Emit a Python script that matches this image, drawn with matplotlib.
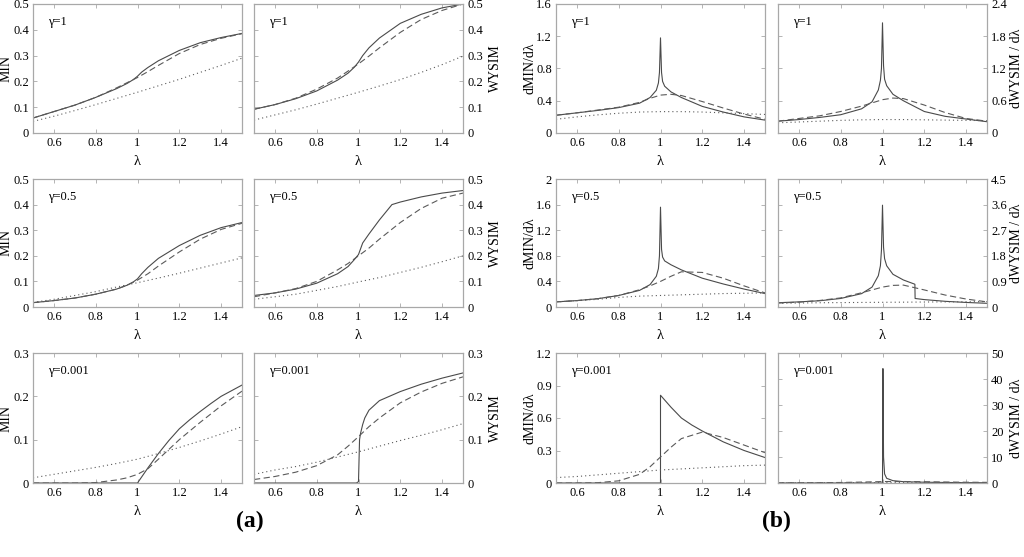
import matplotlib
matplotlib.use('Agg')
import matplotlib.pyplot as plt
from matplotlib.ticker import FuncFormatter

plt.rcParams['font.family'] = ['Liberation Serif', 'DejaVu Serif']
plt.rcParams['lines.scale_dashes'] = False

# common lambda grids
lam_base = [0.5, 0.6, 0.7, 0.8, 0.9, 0.95, 1.0, 1.05, 1.1, 1.2, 1.3, 1.4, 1.5]
lam_dot = [0.5, 0.6, 0.7, 0.8, 0.9, 1.0, 1.1, 1.2, 1.3, 1.4, 1.5]
lam_kink = [0.5, 0.6, 0.7, 0.8, 0.9, 0.95, 0.98, 1.0, 1.02, 1.05, 1.1, 1.2, 1.3, 1.4, 1.5]
lam_peak = [0.5, 0.6, 0.7, 0.8, 0.9, 0.95, 0.98, 0.99, 0.995, 1.0, 1.005, 1.01,
            1.02, 1.05, 1.1, 1.2, 1.3, 1.4, 1.5]

# (a) MIN, gamma = 1
min_g1_solid = [0.058, 0.083, 0.108, 0.138, 0.172, 0.192, 0.207, 0.22, 0.236, 0.254,
                0.28, 0.32, 0.35, 0.37, 0.386]
min_g1_dash = [0.058, 0.083, 0.108, 0.138, 0.175, 0.195, 0.215, 0.238, 0.262, 0.308,
               0.343, 0.367, 0.385]
min_g1_dot = [0.045, 0.065, 0.087, 0.11, 0.134, 0.158, 0.183, 0.208, 0.235, 0.262, 0.29]

# (a) WYSIM, gamma = 1
wys_g1_solid = [0.092, 0.11, 0.133, 0.163, 0.205, 0.232, 0.255, 0.275, 0.3, 0.33,
                0.368, 0.425, 0.46, 0.485, 0.5]
wys_g1_dash = [0.092, 0.11, 0.135, 0.17, 0.213, 0.24, 0.268, 0.298, 0.33, 0.39,
               0.44, 0.475, 0.5]
wys_g1_dot = [0.05, 0.07, 0.09, 0.112, 0.135, 0.158, 0.182, 0.207, 0.235, 0.265, 0.298]

# (a) MIN, gamma = 0.5
min_g05_solid = [0.017, 0.025, 0.035, 0.05, 0.07, 0.085, 0.098, 0.11, 0.13, 0.155,
                 0.19, 0.24, 0.28, 0.31, 0.33]
min_g05_dash = [0.017, 0.025, 0.035, 0.05, 0.07, 0.085, 0.105, 0.13, 0.16, 0.215,
                0.265, 0.303, 0.327]
min_g05_dot = [0.018, 0.03, 0.045, 0.06, 0.078, 0.095, 0.113, 0.132, 0.152, 0.172, 0.192]

# (a) WYSIM, gamma = 0.5
wys_g05_x = [0.5, 0.6, 0.7, 0.8, 0.9, 0.95, 0.98, 1.0, 1.02, 1.05, 1.1, 1.16, 1.2,
             1.3, 1.4, 1.5]
wys_g05_solid = [0.045, 0.055, 0.07, 0.093, 0.13, 0.158, 0.185, 0.205, 0.25, 0.285,
                 0.34, 0.4, 0.41, 0.43, 0.445, 0.455]
wys_g05_dash = [0.04, 0.055, 0.072, 0.1, 0.145, 0.17, 0.2, 0.23, 0.265, 0.33, 0.385,
                0.425, 0.445]
wys_g05_dot = [0.03, 0.04, 0.05, 0.065, 0.08, 0.098, 0.115, 0.135, 0.155, 0.177, 0.2]

# (a) MIN, gamma = 0.001
min_g0_x = [0.5, 1.0, 1.05, 1.1, 1.15, 1.2, 1.25, 1.3, 1.35, 1.4, 1.45, 1.5]
min_g0_solid = [0, 0, 0.035, 0.068, 0.098, 0.125, 0.146, 0.165, 0.183, 0.2, 0.213, 0.226]
min_g0_dash = [0, 0, 0.0, 0.001, 0.007, 0.012, 0.02, 0.033, 0.055, 0.1, 0.14, 0.178, 0.212]
min_g0_dot = [0.012, 0.02, 0.028, 0.036, 0.045, 0.055, 0.068, 0.082, 0.097, 0.113, 0.13]

# (a) WYSIM, gamma = 0.001
wys_g0_x = [0.5, 0.99, 1.0, 1.005, 1.01, 1.02, 1.03, 1.05, 1.1, 1.2, 1.3, 1.4, 1.5]
wys_g0_solid = [0, 0, 0.003, 0.1, 0.115, 0.135, 0.15, 0.168, 0.19, 0.211, 0.228,
                0.242, 0.254]
wys_g0_dash = [0.008, 0.015, 0.025, 0.04, 0.065, 0.085, 0.107, 0.13, 0.15, 0.185,
               0.21, 0.23, 0.245]
wys_g0_dot = [0.02, 0.03, 0.038, 0.048, 0.06, 0.072, 0.085, 0.098, 0.11, 0.123, 0.137]

# (b) dMIN/dlambda, gamma = 1
dmin_g1_solid = [0.22, 0.25, 0.28, 0.315, 0.37, 0.44, 0.53, 0.62, 0.75, 1.18, 0.75,
                 0.64, 0.58, 0.51, 0.44, 0.33, 0.26, 0.2, 0.16]
dmin_g1_dash = [0.22, 0.25, 0.285, 0.32, 0.38, 0.43, 0.47, 0.48, 0.465, 0.39, 0.31,
                0.235, 0.17]
dmin_g1_dot = [0.17, 0.2, 0.225, 0.245, 0.26, 0.265, 0.265, 0.26, 0.25, 0.24, 0.23]

# (b) dWYSIM/dlambda, gamma = 1
dwys_g1_solid = [0.22, 0.25, 0.29, 0.34, 0.45, 0.58, 0.8, 0.98, 1.2, 2.05, 1.25, 1.0,
                 0.88, 0.72, 0.6, 0.4, 0.31, 0.26, 0.21]
dwys_g1_dash = [0.22, 0.27, 0.32, 0.4, 0.5, 0.56, 0.62, 0.65, 0.64, 0.52, 0.38,
                0.27, 0.22]
dwys_g1_dot = [0.19, 0.205, 0.22, 0.235, 0.245, 0.25, 0.25, 0.245, 0.24, 0.235, 0.23]

# (b) dMIN/dlambda, gamma = 0.5
dmin_g05_solid = [0.08, 0.1, 0.13, 0.18, 0.26, 0.35, 0.48, 0.6, 0.8, 1.56, 0.9, 0.78,
                  0.72, 0.66, 0.58, 0.45, 0.36, 0.28, 0.21]
dmin_g05_dash = [0.08, 0.1, 0.13, 0.18, 0.27, 0.33, 0.4, 0.48, 0.55, 0.54, 0.45,
                 0.33, 0.22]
dmin_g05_dot = [0.08, 0.1, 0.12, 0.15, 0.17, 0.18, 0.19, 0.2, 0.21, 0.215, 0.22]

# (b) dWYSIM/dlambda, gamma = 0.5
dwys_g05_x = [0.5, 0.6, 0.7, 0.8, 0.9, 0.95, 0.98, 0.99, 0.995, 1.0, 1.005, 1.01,
              1.02, 1.05, 1.1, 1.155, 1.156, 1.2, 1.3, 1.4, 1.5]
dwys_g05_solid = [0.15, 0.18, 0.22, 0.3, 0.47, 0.7, 1.1, 1.45, 2.0, 3.58, 2.1, 1.7,
                  1.45, 1.15, 0.95, 0.8, 0.3, 0.26, 0.2, 0.16, 0.13]
dwys_g05_dash = [0.14, 0.17, 0.23, 0.32, 0.5, 0.6, 0.7, 0.76, 0.77, 0.6, 0.42, 0.28, 0.18]
dwys_g05_dot = [0.13, 0.14, 0.15, 0.155, 0.16, 0.165, 0.17, 0.175, 0.18, 0.185, 0.19]

# (b) dMIN/dlambda, gamma = 0.001
dmin_g0_x = [0.5, 1.0, 1.0, 1.05, 1.1, 1.15, 1.2, 1.3, 1.4, 1.5]
dmin_g0_solid = [0, 0, 0.81, 0.7, 0.6, 0.535, 0.48, 0.38, 0.3, 0.235]
dmin_g0_dash = [0, 0, 0.003, 0.02, 0.08, 0.15, 0.24, 0.33, 0.41, 0.47, 0.42, 0.35, 0.28]
dmin_g0_dot = [0.05, 0.06, 0.075, 0.09, 0.105, 0.12, 0.13, 0.14, 0.15, 0.16, 0.165]

# (b) dWYSIM/dlambda, gamma = 0.001
dwys_g0_x = [0.5, 1.0, 1.002, 1.005, 1.01, 1.02, 1.05, 1.1, 1.2, 1.3, 1.4, 1.5]
dwys_g0_solid = [0, 0, 44, 10, 3.5, 1.8, 0.9, 0.5, 0.3, 0.2, 0.15, 0.1]
dwys_g0_dash = [0.05, 0.08, 0.12, 0.2, 0.35, 0.45, 0.55, 0.58, 0.57, 0.48, 0.38, 0.3, 0.25]
dwys_g0_dot = [0.1, 0.11, 0.12, 0.13, 0.14, 0.15, 0.15, 0.15, 0.15, 0.15, 0.14]

gamma_labels = ['γ=1', 'γ=0.5', 'γ=0.001']

FIG_W, FIG_H = 1024, 557
COL_X = [33, 254, 556, 778]
COL_W = 209
ROWS = [(4, 133), (179, 307), (353, 483)]
# centre of the y label, in pixels, for each column
LABEL_X = [6, 495, 530, 1017]

frame_gray = '#a8a8a8'
line_gray = '#4a4a4a'


def _tick_fmt(v, pos):
    if abs(v - round(v)) < 1e-9:
        return '%d' % round(v)
    return ('%.1f' % v)


def _panel(col, row, curves, ymax, ystep, ylabel, right):
    top, bot = ROWS[row]
    ax = plt.gcf().add_axes([COL_X[col] / FIG_W, 1 - bot / FIG_H,
                             COL_W / FIG_W, (bot - top) / FIG_H])
    sx, sy, dy = curves
    ax.plot(sx[0], sx[1], color=line_gray, lw=0.8)
    ax.plot(sy[0], sy[1], color='#5a5a5a', lw=0.8, dashes=(4.5, 2.5))
    ax.plot(dy[0], dy[1], color='#5a5a5a', lw=0.8, dashes=(0.8, 2.2))
    ax.set_xlim(0.5, 1.5)
    ax.set_ylim(0, ymax)
    ax.set_xticks([0.6, 0.8, 1.0, 1.2, 1.4])
    n = int(round(ymax / ystep))
    ax.set_yticks([i * ystep for i in range(n + 1)])
    ax.xaxis.set_major_formatter(FuncFormatter(_tick_fmt))
    ax.yaxis.set_major_formatter(FuncFormatter(_tick_fmt))
    for sp in ax.spines.values():
        sp.set_color(frame_gray)
        sp.set_linewidth(0.9)
    ax.tick_params(direction='in', length=3, width=0.6, color=frame_gray,
                   top=True, right=True, labelsize=9, pad=3)
    if right:
        ax.yaxis.tick_right()
        ax.yaxis.set_ticks_position('both')
        ax.yaxis.set_label_position('right')
        ax.tick_params(axis='y', labelleft=False, labelright=True)
    ax.set_xlabel('λ', fontsize=10.5, labelpad=4)
    ax.set_ylabel(ylabel, fontsize=10, rotation=90)
    ax.yaxis.label.set_va('center')
    ax.yaxis.label.set_ha('center')
    ax.yaxis.set_label_coords((LABEL_X[col] - COL_X[col]) / COL_W, 0.5)
    ax.text(0.07, 0.86, gamma_labels[row], transform=ax.transAxes,
            fontsize=9, va='center')
    return ax


fig = plt.figure(figsize=(FIG_W / 100, FIG_H / 100), dpi=100)

# (a)
_panel(0, 0, ((lam_kink, min_g1_solid), (lam_base, min_g1_dash), (lam_dot, min_g1_dot)),
       0.5, 0.1, 'MIN', False)
_panel(1, 0, ((lam_kink, wys_g1_solid), (lam_base, wys_g1_dash), (lam_dot, wys_g1_dot)),
       0.5, 0.1, 'WYSIM', True)
_panel(0, 1, ((lam_kink, min_g05_solid), (lam_base, min_g05_dash), (lam_dot, min_g05_dot)),
       0.5, 0.1, 'MIN', False)
_panel(1, 1, ((wys_g05_x, wys_g05_solid), (lam_base, wys_g05_dash), (lam_dot, wys_g05_dot)),
       0.5, 0.1, 'WYSIM', True)
_panel(0, 2, ((min_g0_x, min_g0_solid), (lam_base, min_g0_dash), (lam_dot, min_g0_dot)),
       0.3, 0.1, 'MIN', False)
_panel(1, 2, ((wys_g0_x, wys_g0_solid), (lam_base, wys_g0_dash), (lam_dot, wys_g0_dot)),
       0.3, 0.1, 'WYSIM', True)

# (b)
_panel(2, 0, ((lam_peak, dmin_g1_solid), (lam_base, dmin_g1_dash), (lam_dot, dmin_g1_dot)),
       1.6, 0.4, 'dMIN/dλ', False)
_panel(3, 0, ((lam_peak, dwys_g1_solid), (lam_base, dwys_g1_dash), (lam_dot, dwys_g1_dot)),
       2.4, 0.6, 'dWYSIM / dλ', True)
_panel(2, 1, ((lam_peak, dmin_g05_solid), (lam_base, dmin_g05_dash), (lam_dot, dmin_g05_dot)),
       2.0, 0.4, 'dMIN/dλ', False)
_panel(3, 1, ((dwys_g05_x, dwys_g05_solid), (lam_base, dwys_g05_dash), (lam_dot, dwys_g05_dot)),
       4.5, 0.9, 'dWYSIM / dλ', True)
_panel(2, 2, ((dmin_g0_x, dmin_g0_solid), (lam_base, dmin_g0_dash), (lam_dot, dmin_g0_dot)),
       1.2, 0.3, 'dMIN/dλ', False)
_panel(3, 2, ((dwys_g0_x, dwys_g0_solid), (lam_base, dwys_g0_dash), (lam_dot, dwys_g0_dot)),
       50, 10, 'dWYSIM / dλ', True)

fig.text(250 / FIG_W, 1 - 521 / FIG_H, '(a)', fontsize=17, fontweight='bold',
         ha='center', va='center')
fig.text(776 / FIG_W, 1 - 521 / FIG_H, '(b)', fontsize=17, fontweight='bold',
         ha='center', va='center')

fig.savefig('out.png', dpi=100)
